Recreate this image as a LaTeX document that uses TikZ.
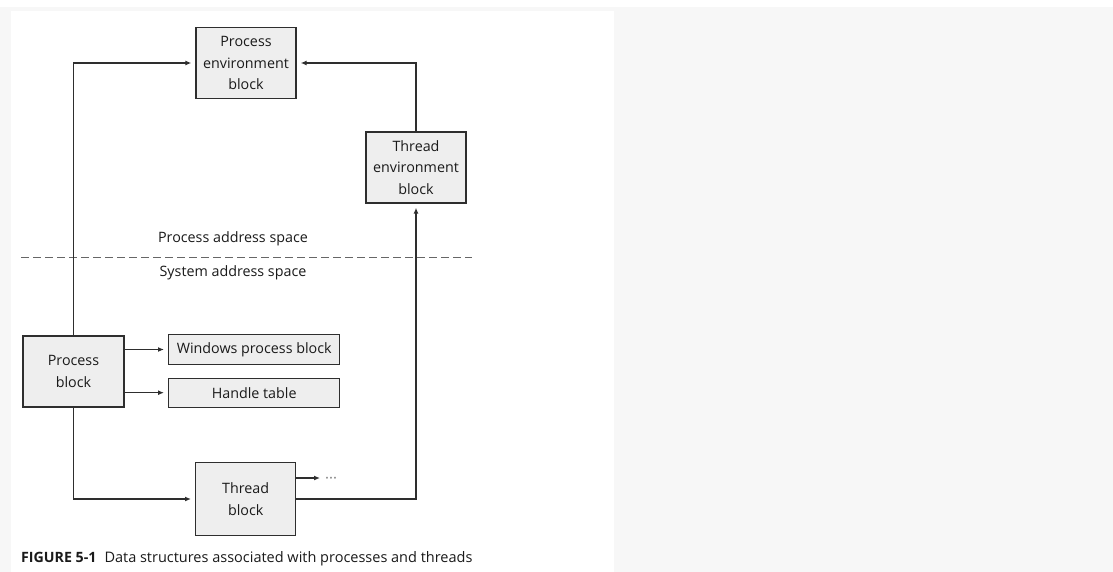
\documentclass[tikz,border=0pt]{standalone}
\usepackage{fontspec}
\setmainfont{Open Sans}
\usetikzlibrary{arrows.meta}
\definecolor{bordercol}{HTML}{2E2E2E}
\definecolor{boxfill}{HTML}{EEEEEE}
\definecolor{txtcol}{HTML}{1A1A1A}
\definecolor{pagegray}{HTML}{F7F7F7}
\tikzset{
  blk/.style={draw=bordercol, line width=1.4pt, fill=boxfill, text=txtcol, align=center,
    inner sep=0pt, font=\fontsize{14.3}{21.5}\selectfont},
  arr/.style={draw=bordercol, line width=1.2pt, -{Latex[length=6pt,width=5pt]}, shorten >=4pt},
  lbl/.style={text=txtcol, font=\fontsize{14.3}{21}\selectfont, inner sep=0pt},
}
\begin{document}
\begin{tikzpicture}[x=1pt,y=-1pt]
\useasboundingbox (0,0) rectangle (1113,572);
\fill[pagegray] (0,7) rectangle (1113,572);
\fill[white] (11,11) rectangle (614,572);

\node[blk, minimum width=100pt, minimum height=71pt] (peb) at (246,63) {Process\\environment\\block};
\node[blk, minimum width=100pt, minimum height=71pt] (teb) at (416,167.5) {Thread\\environment\\block};
\node[blk, minimum width=101pt, minimum height=71pt] (pb) at (73.5,371.5) {Process\\block};
\node[blk, minimum width=171pt, minimum height=30pt] (wpb) at (254.2,349.5) {Windows process block};
\node[blk, minimum width=171pt, minimum height=29pt] (ht) at (254.2,392.7) {Handle table};
\node[blk, minimum width=100pt, minimum height=73pt] (tb) at (245.7,499) {Thread\\block};
\node[lbl, text=gray, anchor=base west] (dots) at (325,483) {\fontsize{15}{15}\selectfont ···};
\coordinate (dotsarr) at (324,478);

\node[lbl] (pas) at (233,239) {Process address space};
\node[lbl] (sas) at (233,273) {System address space};
\coordinate (dashL) at (21,257.7);
\coordinate (dashR) at (472,257.7);
\draw[draw=gray!80!black, line width=0.9pt, dash pattern=on 8pt off 4pt] (dashL) -- (dashR);

\draw[arr] (pb.north) |- (peb.west);
\draw[arr] (teb.north) |- (peb.east);
\draw[arr] (pb.south) |- (tb.west);
\draw[arr] (tb.east) -| (teb.south);
\draw[arr] (pb.east |- wpb.west) -- (wpb.west);
\draw[arr] (pb.east |- ht.west) -- (ht.west);
\draw[arr] (tb.east |- dotsarr) -- (dotsarr);

\node[lbl, anchor=base west] (cap) at (21,562) {{\fontsize{14.2}{16}\selectfont\bfseries FIGURE 5-1}\hspace{8pt}{\fontsize{14.5}{16}\selectfont Data structures associated with processes and threads}};
\end{tikzpicture}
\end{document}
